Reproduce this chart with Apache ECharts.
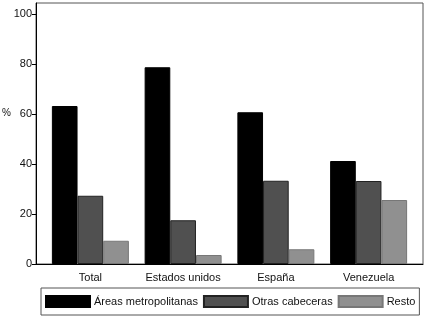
<!DOCTYPE html>
<html><head><meta charset="utf-8">
<script src="https://cdn.jsdelivr.net/npm/echarts@6/dist/echarts.min.js"></script>
<style>html,body{margin:0;padding:0;background:#fff}#c{width:427px;height:318px}</style>
</head><body><div id="c"></div>
<script>
const categories = ['Total', 'Estados unidos', 'España', 'Venezuela'];
const seriesNames = ['Áreas metropolitanas', 'Otras cabeceras', 'Resto'];
const metro = [63.2, 78.7, 60.7, 41.2];
const otras = [27.3, 17.5, 33.3, 33.2];
const resto = [9.3, 3.6, 5.9, 25.6];
const yTicks = [0, 20, 40, 60, 80, 100];

const font = 'Liberation Sans, Arial, sans-serif';
const colors = ['#000000', '#505050', '#909090'];
const borders = ['#000000', '#222222', '#777777'];
const vals = [metro, otras, resto];

const chart = echarts.init(document.getElementById('c'));
chart.setOption({
  animation: false,
  textStyle: { fontFamily: font },
  grid: [
    { left: 36, right: 4, top: 3, bottom: 54, show: true, borderColor: '#555', borderWidth: 1 },
    { left: 44, right: 12, top: 3, bottom: 54 }
  ],
  xAxis: [
    { gridIndex: 0, type: 'value', min: 0, max: 1, axisLine: { show: true, lineStyle: { color: '#000', width: 1 } },
      axisTick: { show: false }, axisLabel: { show: false }, splitLine: { show: false } },
    { gridIndex: 1, type: 'category', data: categories, axisLine: { show: false }, axisTick: { show: false },
      axisLabel: { interval: 0, margin: 8, fontSize: 11, color: '#111', fontFamily: font } }
  ],
  yAxis: [
    { gridIndex: 0, type: 'value', min: 0, max: 104.4, interval: 20,
      axisLine: { show: true, lineStyle: { color: '#000', width: 1 } },
      axisTick: { show: true, length: 4, inside: false, customValues: yTicks, lineStyle: { color: '#000' } },
      axisLabel: { margin: 4, fontSize: 11, color: '#111', fontFamily: font, customValues: yTicks },
      splitLine: { show: false } },
    { gridIndex: 1, type: 'value', min: 0, max: 104.4, show: false, splitLine: { show: false } }
  ],
  legend: {
    left: 41, top: 288,
    data: seriesNames,
    itemWidth: 44, itemHeight: 11, itemGap: 5,
    borderColor: '#555', borderWidth: 1, padding: [7, 4, 7, 4],
    textStyle: { fontSize: 11, color: '#111', fontFamily: font, padding: [0, 0, 0, -1] },
    icon: 'rect'
  },
  graphic: [{ type: 'text', left: 2, top: 108, style: { text: '%', font: '10px ' + font, fill: '#111' } }],
  series: seriesNames.map((n, i) => ({
    name: n, type: 'bar', xAxisIndex: 1, yAxisIndex: 1, data: vals[i],
    barGap: '0%', barCategoryGap: '17%',
    itemStyle: { color: colors[i], borderColor: borders[i], borderWidth: 1 }
  }))
});
</script></body></html>
